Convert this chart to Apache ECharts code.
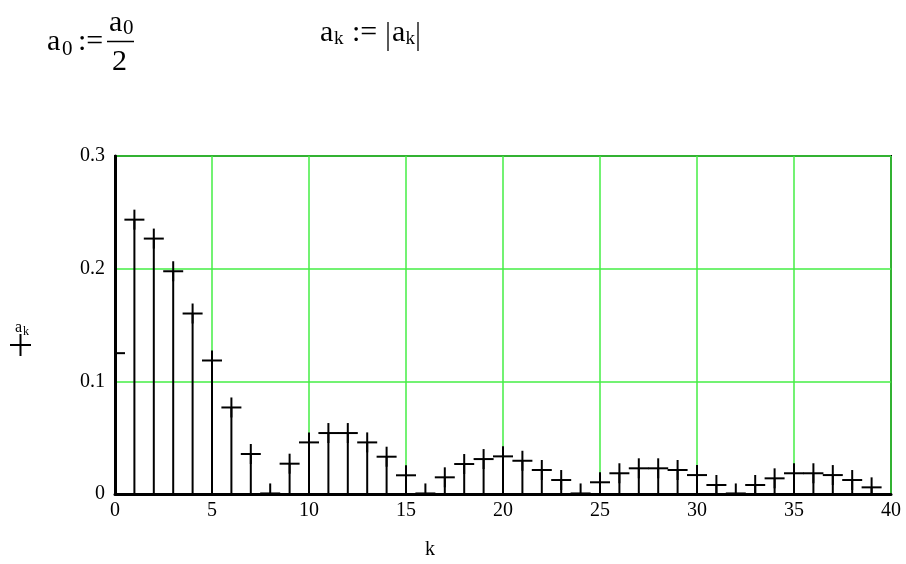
<!DOCTYPE html>
<html>
<head>
<meta charset="utf-8">
<script src="https://cdn.jsdelivr.net/npm/echarts@6/dist/echarts.min.js"></script>
<style>
  html, body { margin: 0; padding: 0; background: #fff; }
  #chart { width: 906px; height: 564px; }
</style>
</head>
<body>
<div id="chart"></div>
<script>
// Harmonic index k and the amplitude |a_k| of each harmonic
const harmonics = [0, 1, 2, 3, 4, 5, 6, 7, 8, 9, 10, 11, 12, 13, 14, 15, 16, 17, 18, 19,
                   20, 21, 22, 23, 24, 25, 26, 27, 28, 29, 30, 31, 32, 33, 34, 35, 36, 37, 38, 39];
const amplitudes = [0.125, 0.2435, 0.2267, 0.1977, 0.1602, 0.1185, 0.0768, 0.0355, 0.0005, 0.0269,
                    0.0458, 0.0541, 0.0541, 0.0458, 0.0331, 0.0166, 0.0005, 0.0148, 0.0266, 0.0310,
                    0.0334, 0.0295, 0.0213, 0.0124, 0.0005, 0.0104, 0.0184, 0.0228, 0.0228, 0.0213,
                    0.0168, 0.0080, 0.0005, 0.0080, 0.0139, 0.0184, 0.0184, 0.0168, 0.0124, 0.0059];
const xTicks = { min: 0, max: 40, interval: 5 };
const yTicks = { min: 0, max: 0.3, interval: 0.1 };

const SERIF = '"Liberation Serif", "Times New Roman", serif';
const GRID_GREEN = '#44ee44';

const chart = echarts.init(document.getElementById('chart'), null, { renderer: 'canvas' });

const points = harmonics.map((k, i) => [k, amplitudes[i]]);

// Stem with a "+" marker at the top of each harmonic
function renderStem(params, api) {
  const k = api.value(0);
  const v = api.value(1);
  const base = api.coord([k, 0]);
  const top = api.coord([k, v]);
  const s = { stroke: '#000', lineWidth: 2 };
  return {
    type: 'group',
    children: [
      { type: 'line', shape: { x1: base[0], y1: base[1], x2: top[0], y2: top[1] }, style: s },
      { type: 'line', shape: { x1: top[0] - 10, y1: top[1], x2: top[0] + 10, y2: top[1] }, style: s },
      { type: 'line', shape: { x1: top[0], y1: top[1] - 10, x2: top[0], y2: top[1] + 10 }, style: s }
    ]
  };
}

// Plain text placed by its top-left corner
const txt = (x, y, text, size) => ({
  type: 'text', left: x, top: y, silent: true,
  style: { text: text, font: size + 'px ' + SERIF, fill: '#000' }
});
const rule = (x1, y1, x2, y2, w) => ({
  type: 'line', silent: true, shape: { x1: x1, y1: y1, x2: x2, y2: y2 },
  style: { stroke: '#000', lineWidth: w }
});

chart.setOption({
  animation: false,
  backgroundColor: '#fff',
  grid: {
    left: 115, right: 15, top: 156, bottom: 70,
    show: true, borderColor: '#000', borderWidth: 2, backgroundColor: 'transparent'
  },
  xAxis: {
    type: 'value',
    min: xTicks.min, max: xTicks.max, interval: xTicks.interval,
    axisLine: { show: true, onZero: false, lineStyle: { color: '#000', width: 3 } },
    axisTick: { show: false },
    axisLabel: { color: '#000', fontFamily: SERIF, fontSize: 20, margin: 7 },
    splitLine: { show: true, lineStyle: { color: GRID_GREEN, width: 1.5 } }
  },
  yAxis: {
    type: 'value',
    min: yTicks.min, max: yTicks.max, interval: yTicks.interval,
    axisLine: { show: true, onZero: false, lineStyle: { color: '#000', width: 3 } },
    axisTick: { show: false },
    axisLabel: { color: '#000', fontFamily: SERIF, fontSize: 20, margin: 10,
                 formatter: v => (v === 0 ? '0' : v.toFixed(1)) },
    splitLine: { show: true, lineStyle: { color: GRID_GREEN, width: 1.5 } }
  },
  graphic: [
    // a0 := a0 / 2
    txt(47, 27, 'a', 30),
    txt(62, 39, '0', 21),
    txt(78, 27, ':=', 30),
    txt(109, 8, 'a', 30),
    txt(123, 18, '0', 21),
    rule(107, 41.5, 134, 41.5, 1.5),
    txt(112, 47, '2', 30),
    // ak := |ak|
    txt(320, 18, 'a', 30),
    txt(334, 30, 'k', 19),
    txt(352, 18, ':=', 30),
    rule(388, 22, 388, 51, 1.3),
    txt(392, 18, 'a', 30),
    txt(405.5, 30, 'k', 19),
    rule(418, 22, 418, 51, 1.3),
    // y axis legend: a_k with the marker symbol
    txt(15, 320, 'a', 16),
    txt(23, 326, 'k', 12),
    rule(10, 345, 31, 345, 2),
    rule(20.5, 334, 20.5, 356, 2),
    // x axis name
    txt(425, 540, 'k', 20)
  ],
  series: [{
    type: 'custom',
    clip: true,
    renderItem: renderStem,
    data: points,
    z: 5
  }]
});
</script>
</body>
</html>
